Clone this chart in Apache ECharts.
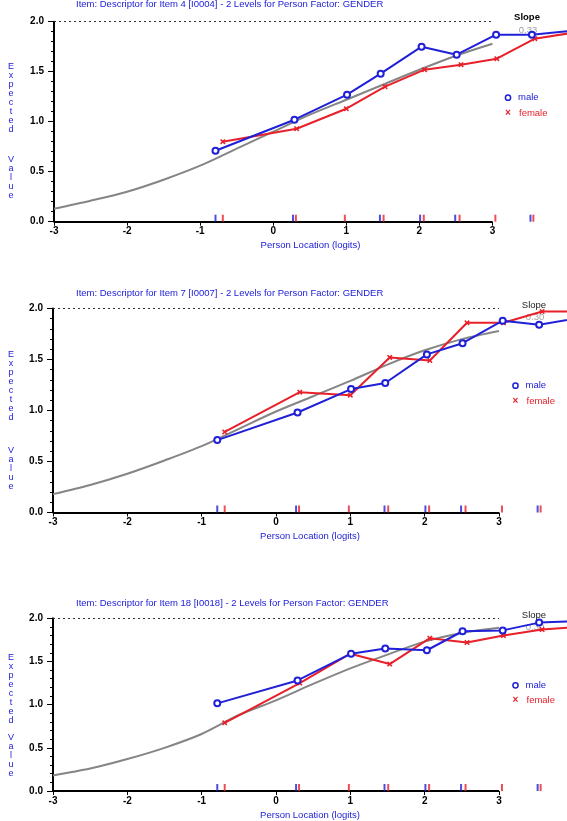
<!DOCTYPE html>
<html><head><meta charset="utf-8">
<script src="https://cdn.jsdelivr.net/npm/echarts@6/dist/echarts.min.js"></script>
<style>html,body{margin:0;padding:0;background:#fff}#c{width:567px;height:821px}</style>
</head><body><div id="c"></div>
<script>
// ---------- data ----------
const titles = [
  'Item: Descriptor for Item 4 [I0004] - 2 Levels for Person Factor: GENDER',
  'Item: Descriptor for Item 7 [I0007] - 2 Levels for Person Factor: GENDER',
  'Item: Descriptor for Item 18 [I0018] - 2 Levels for Person Factor: GENDER'
];
const slopes = ['0.33', '0.30', '0.30'];
const xTicks = [-3, -2, -1, 0, 1, 2, 3];
const yTicks = [0, 0.5, 1.0, 1.5, 2.0];
const xAxisName = 'Person Location (logits)';
const yAxisName1 = 'Expected';
const yAxisName2 = 'Value';
const groups = ['male', 'female'];

// class-interval locations (last value = continuation beyond the visible edge)
const maleX   = [-0.79, 0.29, 1.01, 1.47, 2.03, 2.51, 3.05, 3.54, 4.1];
const femaleX = [-0.69, 0.32, 1.00, 1.53, 2.07, 2.57, 3.06, 3.58, 4.1];

const male1   = [0.71, 1.02, 1.27, 1.48, 1.75, 1.67, 1.87, 1.87, 1.91];
const female1 = [0.80, 0.93, 1.13, 1.35, 1.52, 1.57, 1.63, 1.83, 1.89];
const male2   = [0.71, 0.98, 1.21, 1.27, 1.55, 1.66, 1.88, 1.84, 1.91];
const female2 = [0.79, 1.18, 1.15, 1.52, 1.49, 1.86, 1.86, 1.97, 1.97];
const male3   = [1.015, 1.28, 1.59, 1.65, 1.63, 1.85, 1.86, 1.95, 1.97];
const female3 = [0.79, 1.25, 1.59, 1.47, 1.77, 1.72, 1.80, 1.87, 1.90];

// expected-value (model) curve
const curveX = [-3, -2.5, -2, -1.5, -1, -0.5, 0, 0.5, 1, 1.5, 2, 2.5, 3];
const curve1 = [0.13, 0.21, 0.30, 0.42, 0.56, 0.73, 0.90, 1.07, 1.22, 1.37, 1.52, 1.66, 1.78];
const curve2 = [0.18, 0.27, 0.38, 0.51, 0.65, 0.82, 0.99, 1.14, 1.29, 1.45, 1.59, 1.70, 1.78];
const curve3 = [0.18, 0.26, 0.37, 0.50, 0.66, 0.88, 1.05, 1.24, 1.42, 1.58, 1.73, 1.83, 1.89];

// person rug (class interval means by group)
const rugMale   = [-0.79, 0.27, 1.46, 2.01, 2.49, 3.52];
const rugFemale = [-0.69, 0.31, 0.98, 1.51, 2.06, 2.55, 3.04, 3.56];

// ---------- layout / style ----------
const FONT = '"Liberation Sans", Arial, sans-serif';
const BLUE = '#2020d8', RED = '#e8202a', GRAY = '#858585';
const panels = [
  {left: 54, top: 21.7, height: 200, xMax: 4.02, titleY: 5.5, exY: 62, vaY: 155,
   slopeY: 17, slopeBold: true, legX: 508, legY: 97.7},
  {left: 53, top: 308.5, height: 204, xMax: 3.915, titleY: 294, exY: 350, vaY: 446,
   slopeY: 305, slopeBold: false, legX: 515.5, legY: 385.7},
  {left: 53, top: 618.3, height: 177.2, xMax: 3.915, titleY: 604, exY: 653, vaY: 733,
   slopeY: 615, slopeBold: false, legX: 515.5, legY: 685.3}
];
const maleSets = [male1, male2, male3];
const femaleSets = [female1, female2, female3];
const curves = [curve1, curve2, curve3];
const CROSS = 'path://M2,0L5,3L8,0L10,2L7,5L10,8L8,10L5,7L2,10L0,8L3,5L0,2Z';

const grid = [], xAxis = [], yAxis = [], series = [], graphic = [];
panels.forEach((p, i) => {
  grid.push({left: p.left, top: p.top, width: 567 - p.left, height: p.height, containLabel: false});
  xAxis.push({
    type: 'value', gridIndex: i, min: xTicks[0], max: p.xMax, interval: 1,
    axisLine: {show: false, onZero: false},
    axisTick: {show: true, customValues: xTicks, length: 4, lineStyle: {color: '#000', width: 1}},
    axisLabel: {customValues: xTicks, margin: 5, fontFamily: FONT, fontSize: 10, fontWeight: 'bold', color: '#000'},
    splitLine: {show: false},
    name: xAxisName, nameLocation: 'middle', nameGap: 19,
    nameTextStyle: {fontFamily: FONT, fontSize: 9.5, color: BLUE}
  });
  yAxis.push({
    type: 'value', gridIndex: i, min: yTicks[0], max: yTicks[yTicks.length - 1], interval: 0.5,
    axisLine: {show: true, onZero: false, lineStyle: {color: '#000', width: 2}},
    axisTick: {show: true, length: 6, lineStyle: {color: '#000', width: 1}},
    minorTick: {show: true, splitNumber: 5, length: 3, lineStyle: {color: '#000', width: 1}},
    axisLabel: {margin: 10, fontFamily: FONT, fontSize: 10, fontWeight: 'bold', color: '#000',
      formatter: v => v.toFixed(1)},
    splitLine: {show: false}
  });
  const last = maleX.length - 1;
  series.push({
    type: 'line', xAxisIndex: i, yAxisIndex: i, z: 2, smooth: 0.3, showSymbol: false,
    data: curveX.map((x, j) => [x, curves[i][j]]),
    lineStyle: {color: GRAY, width: 2}, silent: true
  });
  series.push({
    type: 'line', name: groups[1], xAxisIndex: i, yAxisIndex: i, z: 3, clip: true,
    symbol: CROSS, symbolSize: 5.5,
    data: femaleX.map((x, j) => j === last ? {value: [x, femaleSets[i][j]], symbol: 'none'} : [x, femaleSets[i][j]]),
    itemStyle: {color: RED}, lineStyle: {color: RED, width: 2}
  });
  series.push({
    type: 'line', name: groups[0], xAxisIndex: i, yAxisIndex: i, z: 4, clip: true,
    symbol: 'emptyCircle', symbolSize: 6,
    data: maleX.map((x, j) => j === last ? {value: [x, maleSets[i][j]], symbol: 'none'} : [x, maleSets[i][j]]),
    itemStyle: {color: BLUE, borderWidth: 1.5}, lineStyle: {color: BLUE, width: 2}
  });
  series.push({
    type: 'scatter', xAxisIndex: i, yAxisIndex: i, z: 5, clip: false, silent: true,
    symbol: 'rect', symbolSize: [2, 7], symbolOffset: [0, '-50%'],
    data: rugMale.map(x => [x, 0]), itemStyle: {color: BLUE},
    markLine: {
      silent: true, symbol: ['none', 'none'], label: {show: false}, animation: false,
      data: [
        [{coord: [xTicks[0], yTicks[0]], lineStyle: {color: '#000', width: 2, type: 'solid'}},
         {coord: [xTicks[xTicks.length - 1], yTicks[0]]}],
        [{coord: [xTicks[0], yTicks[yTicks.length - 1]], lineStyle: {color: '#333', width: 1, type: [2, 3]}},
         {coord: [xTicks[xTicks.length - 1], yTicks[yTicks.length - 1]]}]
      ]
    }
  });
  series.push({
    type: 'scatter', xAxisIndex: i, yAxisIndex: i, z: 5, clip: false, silent: true,
    symbol: 'rect', symbolSize: [2, 7], symbolOffset: [0, '-50%'],
    data: rugFemale.map(x => [x, 0]), itemStyle: {color: RED}
  });

  // title
  graphic.push({type: 'text', left: 76, top: p.titleY - 6,
    style: {text: titles[i], font: '9.5px ' + FONT, fill: BLUE}});
  // vertical y-axis name
  graphic.push({type: 'text', x: 11, y: p.exY,
    style: {text: yAxisName1.split('').join('\n'), font: '9px ' + FONT, fill: BLUE,
      lineHeight: 9, align: 'center', verticalAlign: 'top'}});
  graphic.push({type: 'text', x: 11, y: p.vaY,
    style: {text: yAxisName2.split('').join('\n'), font: '9px ' + FONT, fill: BLUE,
      lineHeight: 9, align: 'center', verticalAlign: 'top'}});
  // slope
  graphic.push({type: 'text', x: 527 + (i ? 7 : 0), y: p.slopeY,
    style: {text: 'Slope', font: (p.slopeBold ? 'bold ' : '') + '9.5px ' + FONT, fill: p.slopeBold ? '#000' : '#222',
      align: 'center', verticalAlign: 'middle'}});
  graphic.push({type: 'text', x: 528 + (i ? 7 : 0), y: p.slopeY + (i ? 12.5 : 13),
    style: {text: slopes[i], font: '9.5px ' + FONT, fill: '#a0a0a0', align: 'center', verticalAlign: 'middle'}, z: 1});
  // legend
  graphic.push({type: 'circle', shape: {cx: p.legX, cy: p.legY, r: 2.6},
    style: {fill: 'none', stroke: BLUE, lineWidth: 1.5}});
  graphic.push({type: 'text', x: p.legX + 10, y: p.legY,
    style: {text: groups[0], font: '9.5px ' + FONT, fill: BLUE, verticalAlign: 'middle'}});
  graphic.push({type: 'text', x: p.legX, y: p.legY + 15.3,
    style: {text: '\u00d7', font: 'bold 10px ' + FONT, fill: RED, align: 'center', verticalAlign: 'middle'}});
  graphic.push({type: 'text', x: p.legX + 11, y: p.legY + 15.3,
    style: {text: groups[1], font: '9.5px ' + FONT, fill: RED, verticalAlign: 'middle'}});
});

const chart = echarts.init(document.getElementById('c'), null, {renderer: 'canvas'});
chart.setOption({
  animation: false,
  backgroundColor: '#fff',
  grid, xAxis, yAxis, series, graphic
});
</script>
</body></html>
